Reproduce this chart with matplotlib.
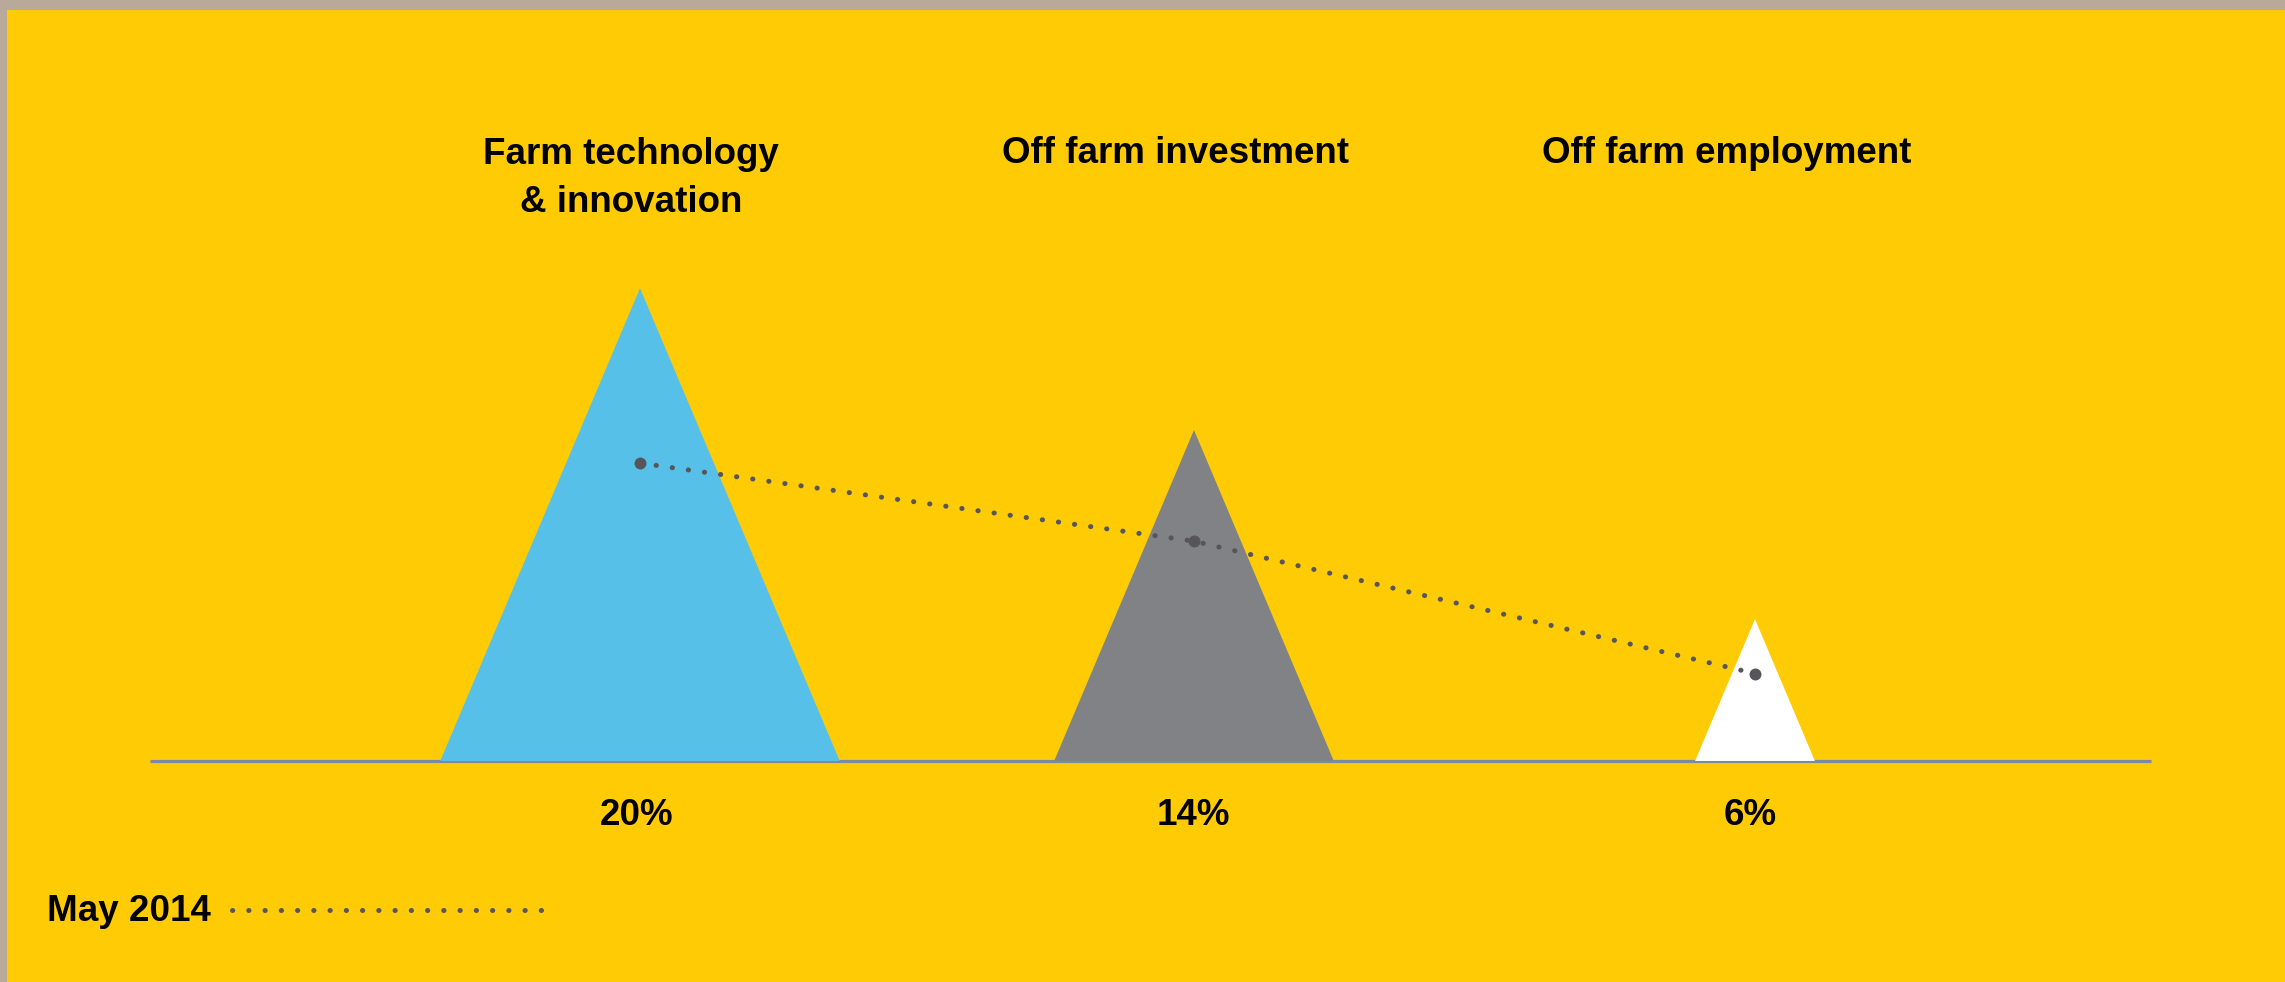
import matplotlib
matplotlib.use("Agg")
import matplotlib.pyplot as plt
from matplotlib.patches import Polygon, Rectangle

# drivers of farm income, share of respondents
categories = ["Farm technology\n& innovation", "Off farm investment", "Off farm employment"]
shares = [20, 14, 6]
may_2014 = [12.6, 9.3, 3.7]
value_labels = ["20%", "14%", "6%"]
legend_label = "May 2014"

colours = ["#56C0E8", "#818286", "#FFFFFF"]
YELLOW = "#FFCB05"
BORDER = "#B8A99B"
DOTS = "#56565A"
AXIS = "#7D8A9C"

W, H = 2285, 982
base_y = 761          # pixel row of the baseline
px_per_pct = 23.64    # vertical scale
centres = [640, 1194, 1755]
title_x = [631, 1176, 1727]
label_x = [637, 1193, 1750]
slope = 0.4225        # half base width / height
dotted = (0, (0.05, 3.2))

fig = plt.figure(figsize=(W / 100, H / 100), dpi=100)
fig.patch.set_facecolor(YELLOW)

ax = fig.add_axes([0, 0, 1, 1])
ax.set_facecolor(YELLOW)
ax.set_xlim(0, W)
ax.set_ylim(-(H - base_y) / px_per_pct, base_y / px_per_pct)
ax.axis("off")

# baseline
ax.plot([150, 2151], [0, 0], color=AXIS, lw=2.3, solid_capstyle="butt", zorder=1)

# one triangle per category, height = share
for x, v, c in zip(centres, shares, colours):
    half = slope * v * px_per_pct
    tri = Polygon([(x - half, 0), (x, v), (x + half, 0)], closed=True,
                  facecolor=c, edgecolor="none", zorder=2)
    ax.add_patch(tri)

# May 2014 comparison, dotted
ax.plot(centres, may_2014, color=DOTS, lw=3.6, linestyle=dotted,
        dash_capstyle="round", zorder=3)
ax.plot(centres, may_2014, "o", color=DOTS, ms=8.6, mec="none", zorder=4)

font = dict(family=["Liberation Sans", "DejaVu Sans"], weight="bold", color="black")

def fx(px):
    return px / W

def fy(py):
    return 1 - py / H

# titles: first line baseline at row 163, 49 px between lines
for x, t in zip(title_x, categories):
    n = t.count("\n")
    fig.text(fx(x), fy(163 + 49 * n), t, ha="center", va="baseline", ma="center",
             fontsize=26.5, linespacing=1.5, **font)

for x, t in zip(label_x, value_labels):
    fig.text(fx(x), fy(825), t, ha="center", va="baseline", fontsize=26.5, **font)

# legend
fig.text(fx(47), fy(921), legend_label, ha="left", va="baseline", fontsize=26.5, **font)
fig.add_artist(plt.Line2D([fx(232), fx(552)], [fy(910), fy(910)], transform=fig.transFigure,
                          color=DOTS, lw=3.6, linestyle=dotted, dash_capstyle="round"))

# frame edges
fig.add_artist(Rectangle((0, fy(10)), 1, 10 / H, transform=fig.transFigure,
                         facecolor=BORDER, edgecolor="none"))
fig.add_artist(Rectangle((0, 0), 7 / W, 1, transform=fig.transFigure,
                         facecolor=BORDER, edgecolor="none"))

fig.savefig("out.png", dpi=100, facecolor=YELLOW)
